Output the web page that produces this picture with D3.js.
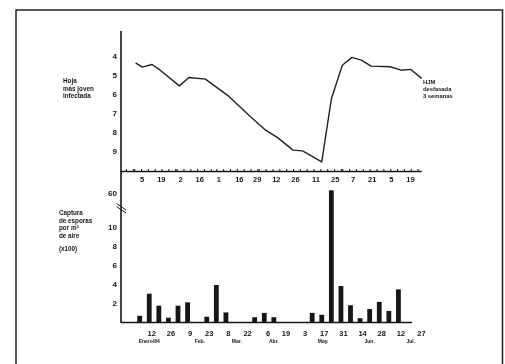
<!DOCTYPE html>
<html>
<head>
<meta charset="utf-8">
<script src="https://cdn.jsdelivr.net/npm/d3@7"></script>
<style>
  html, body { margin: 0; padding: 0; background: #fff; }
  svg { display: block; font-family: "Liberation Sans", Arial, sans-serif; font-weight: bold; filter: grayscale(100%); }
</style>
</head>
<body>
<svg id="chart" width="505" height="364"></svg>
<script>
// hoja mas joven infectada (HJM), desfasada 3 semanas
const hjmDates = ["1984-01-02","1984-01-07","1984-01-14","1984-01-20","1984-02-03","1984-02-10",
  "1984-02-22","1984-03-10","1984-03-26","1984-04-06","1984-04-15","1984-04-26","1984-05-03",
  "1984-05-17","1984-05-24","1984-06-01","1984-06-08","1984-06-15","1984-06-22","1984-07-06",
  "1984-07-14","1984-07-21","1984-07-29"];
const hjmValues = [4.37, 4.59, 4.45, 4.75, 5.57, 5.13, 5.22, 6.11, 7.19, 7.89, 8.29, 8.93, 8.97,
  9.55, 6.26, 4.49, 4.08, 4.22, 4.54, 4.57, 4.75, 4.71, 5.18];

// captura de esporas por m3 de aire (x100)
const sporeDates = ["1984-01-05","1984-01-12","1984-01-19","1984-01-26","1984-02-02","1984-02-09",
  "1984-02-23","1984-03-01","1984-03-08","1984-03-29","1984-04-05","1984-04-12","1984-05-10",
  "1984-05-17","1984-05-24","1984-05-31","1984-06-07","1984-06-14","1984-06-21","1984-06-28",
  "1984-07-05","1984-07-12"];
const sporeValues = [0.7, 3.0, 1.75, 0.5, 1.75, 2.1, 0.6, 3.9, 1.05, 0.55, 1.0, 0.55, 1.0, 0.8,
  64, 3.8, 1.8, 0.45, 1.4, 2.15, 1.2, 3.45];

// ejes
const upperTickDates = ["1984-01-05","1984-01-19","1984-02-02","1984-02-16","1984-03-01","1984-03-16",
  "1984-03-29","1984-04-12","1984-04-26","1984-05-11","1984-05-25","1984-06-07","1984-06-21",
  "1984-07-05","1984-07-19"];
const upperTickLabels = ["5","19","2","16","1","16","29","12","26","11","25","7","21","5","19"];
const lowerTickDates = ["1984-01-12","1984-01-26","1984-02-09","1984-02-23","1984-03-08","1984-03-22",
  "1984-04-06","1984-04-19","1984-05-03","1984-05-17","1984-05-31","1984-06-14","1984-06-28",
  "1984-07-12","1984-07-27"];
const lowerTickLabels = ["12","26","9","23","8","22","6","19","3","17","31","14","28","12","27"];
const monthDates = ["1984-01-12","1984-02-18","1984-03-16","1984-04-12","1984-05-18","1984-06-21","1984-07-21"];
const monthLabels = ["Enero/84","Feb.","Mar.","Abr.","May.","Jun.","Jul."];
const hjmTicks = [4, 5, 6, 7, 8, 9];
const sporeTicks = [2, 4, 6, 8, 10, 60];

const parse = d3.timeParse("%Y-%m-%d");
const svg = d3.select("#chart");
const ink = "#161616";

// marco
svg.append("rect")
  .attr("x", 16).attr("y", 10)
  .attr("width", 486.5).attr("height", 380)
  .attr("fill", "none").attr("stroke", "#222").attr("stroke-width", 1.5);

const x = d3.scaleTime()
  .domain([parse("1983-12-22"), parse("1984-07-29")])
  .range([120.5, 421.7]);
const yTop = d3.scaleLinear().domain([2.7, 10.05]).range([31, 171.5]);
const yBot = d3.scaleLinear().domain([0, 10, 60]).range([322.5, 226.5, 193]);
const axisX = 121, upperY = 171.5, lowerEnd = parse("1984-07-22");

// lineas de ejes
svg.append("line").attr("x1", axisX).attr("x2", axisX)
  .attr("y1", yTop.range()[0]).attr("y2", yBot(0))
  .attr("stroke", ink).attr("stroke-width", 1.6);
svg.append("line").attr("x1", x.range()[0]).attr("x2", x.range()[1])
  .attr("y1", upperY).attr("y2", upperY)
  .attr("stroke", ink).attr("stroke-width", 1.6);
svg.append("line").attr("x1", x.range()[0]).attr("x2", x(lowerEnd))
  .attr("y1", yBot(0)).attr("y2", yBot(0))
  .attr("stroke", ink).attr("stroke-width", 1.6);

// corte del eje
[0, 3].forEach(function(off) {
  svg.append("line")
    .attr("x1", 116.5).attr("y1", 203.5 + off)
    .attr("x2", 126).attr("y2", 210 + off)
    .attr("stroke", ink).attr("stroke-width", 1);
});

function styleAxis(g, size) {
  g.select(".domain").remove();
  g.selectAll("text").attr("fill", ink).style("font-size", size + "px")
    .style("font-family", '"Liberation Sans", Arial, sans-serif').style("font-weight", "bold");
}

// eje y superior
svg.append("g").attr("transform", "translate(" + axisX + ",0)")
  .call(d3.axisLeft(yTop).tickValues(hjmTicks).tickSize(0).tickPadding(4))
  .call(styleAxis, 8);

// eje y inferior
svg.append("g").attr("transform", "translate(" + axisX + ",0)")
  .call(d3.axisLeft(yBot).tickValues(sporeTicks).tickSize(0).tickPadding(4))
  .call(styleAxis, 8);

// marcas menores eje superior
svg.append("g").attr("transform", "translate(0," + upperY + ")")
  .call(d3.axisBottom(x).ticks(d3.timeDay.every(5)).tickSize(-2.5).tickFormat(""))
  .call(function(g) {
    g.select(".domain").remove();
    g.selectAll("line").attr("stroke", ink).attr("stroke-width", 1);
  });

// etiquetas eje superior
svg.append("g").attr("transform", "translate(0," + upperY + ")")
  .call(d3.axisBottom(x).tickValues(upperTickDates.map(parse))
    .tickFormat(function(d, i) { return upperTickLabels[i]; })
    .tickSize(0).tickPadding(5))
  .call(styleAxis, 7.5)
  .selectAll("text").attr("dx", 2);

// etiquetas eje inferior
svg.append("g").attr("transform", "translate(0," + yBot(0) + ")")
  .call(d3.axisBottom(x).tickValues(lowerTickDates.map(parse))
    .tickFormat(function(d, i) { return lowerTickLabels[i]; })
    .tickSize(0).tickPadding(7.7))
  .call(styleAxis, 7.5)
  .selectAll("text").attr("dx", 2);

svg.selectAll(".month")
  .data(monthDates)
  .enter().append("text")
    .attr("class", "month")
    .attr("x", function(d) { return x(parse(d)); })
    .attr("y", 343)
    .attr("text-anchor", "middle")
    .attr("fill", ink)
    .style("font-size", "5px")
    .text(function(d, i) { return monthLabels[i]; });

// barras
svg.selectAll(".bar")
  .data(sporeDates)
  .enter().append("rect")
    .attr("class", "bar")
    .attr("x", function(d) { return x(parse(d)) - 2.4; })
    .attr("width", 4.8)
    .attr("y", function(d, i) { return yBot(sporeValues[i]); })
    .attr("height", function(d, i) { return yBot(0) - yBot(sporeValues[i]); })
    .attr("fill", ink);

// linea HJM
const line = d3.line()
  .x(function(d) { return x(parse(d)); })
  .y(function(d, i) { return yTop(hjmValues[i]); });
svg.append("path")
  .datum(hjmDates)
  .attr("d", line)
  .attr("fill", "none")
  .attr("stroke", "#222")
  .attr("stroke-width", 1.4)
  .attr("stroke-linejoin", "round");

// textos
function block(lines, x0, y0, step, size) {
  const t = svg.append("text").attr("x", x0).attr("y", y0)
    .attr("fill", ink).style("font-size", size + "px");
  lines.forEach(function(s, i) {
    t.append("tspan").attr("x", x0).attr("y", y0 + i * step).text(s);
  });
  return t;
}
block(["Hoja", "más joven", "infectada"], 63, 83, 7.5, 6.3);
block(["HJM", "desfasada", "3 semanas"], 423, 84, 7, 5.8);
block(["Captura", "de esporas"], 59, 215, 7.5, 6.3);
const por = svg.append("text").attr("x", 59).attr("y", 230)
  .attr("fill", ink).style("font-size", "6.3px").text("por m");
por.append("tspan").attr("dy", -2.2).style("font-size", "4px").text("3");
block(["de aire"], 59, 237.5, 7.5, 6.3);
block(["(x100)"], 59, 251, 7.5, 6.3);
</script>
</body>
</html>
